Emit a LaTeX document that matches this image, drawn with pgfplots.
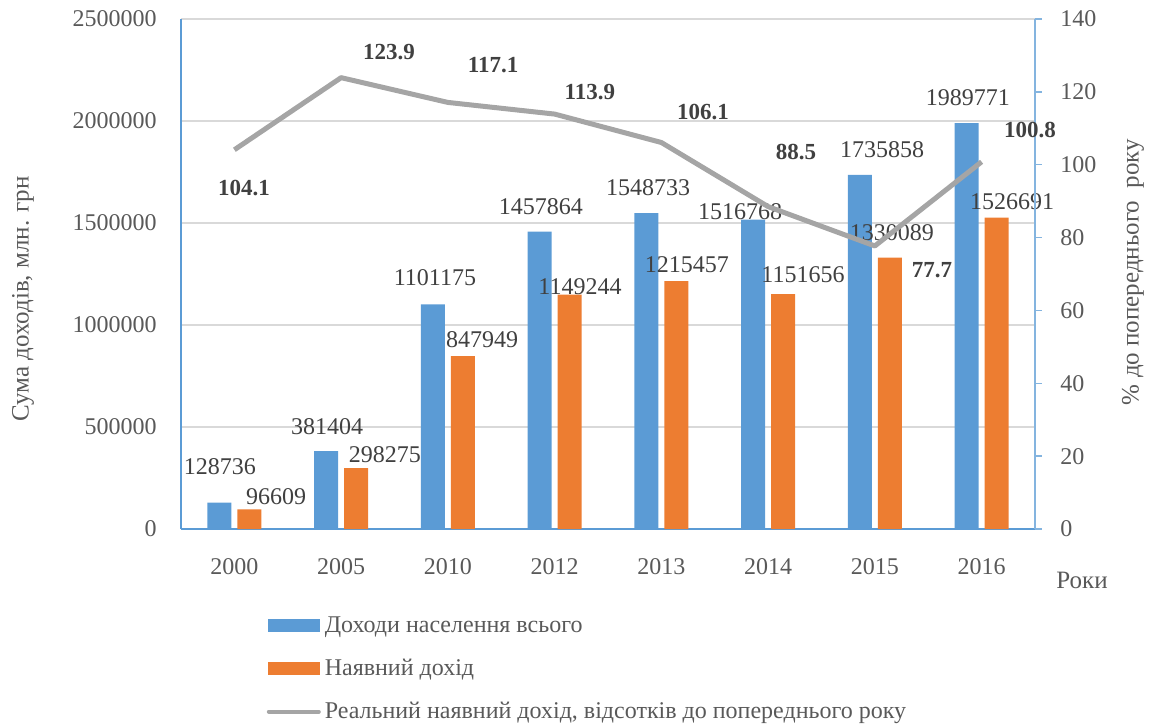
\documentclass[border=0pt]{standalone}
\usepackage{fontspec}
\setmainfont{Liberation Serif}
\usepackage{pgfplots}
\pgfplotsset{compat=1.18}
\definecolor{cblue}{HTML}{5B9BD5}
\definecolor{corange}{HTML}{ED7D31}
\definecolor{lgray}{HTML}{A5A5A5}
\definecolor{gridgray}{HTML}{D9D9D9}
\definecolor{labgray}{HTML}{595959}
\definecolor{datgray}{HTML}{404040}
\begin{document}
\begin{tikzpicture}[font=\fontsize{12}{14}\selectfont]
\useasboundingbox (0,0) rectangle (575pt,362.5pt);
\begin{axis}[
  at={(90.5pt,98pt)}, anchor=south west,
  width=427pt, height=255pt, scale only axis,
  xmin=-0.5, xmax=7.5, ymin=0, ymax=2500000,
  xtick={0,...,7},
  xticklabels={2000,2005,2010,2012,2013,2014,2015,2016},
  ytick={0,500000,1000000,1500000,2000000,2500000},
  scaled y ticks=false,
  /pgf/number format/.cd, fixed, 1000 sep={}, assume math mode=true,
  /pgfplots/.cd,
  axis x line*=bottom, axis y line*=left,
  axis line style={cblue, line width=0.75pt},
  ymajorgrids, grid style={gridgray, line width=1pt},
  major tick length=0pt,
  tick label style={text=labgray, font=\fontsize{12}{14}\selectfont},
  xticklabel style={anchor=center, yshift=-19pt},
  yticklabel style={anchor=east, inner sep=0pt, xshift=-12pt},
  ylabel={Сума доходів, млн. грн},
  ylabel style={at={(axis description cs:-0.185,0.451)}, anchor=center, text=labgray, font=\fontsize{12.5}{14}\selectfont},
  legend style={at={(axis description cs:0.1,-0.163)}, anchor=north west, draw=none, fill=none,
    font=\fontsize{12}{14}\selectfont, text=labgray, row sep=7.8pt, inner sep=0pt,
    /tikz/every even column/.append style={column sep=0pt}},
  legend cell align=left,
  clip=false,
]
\addplot[ybar, bar width=0.2248, bar shift=-0.1405, fill=cblue, draw=none,
  legend image code/.code={\fill[cblue] (0pt,-3.25pt) rectangle (26pt,3.25pt);}]
  coordinates {(0,128736) (1,381404) (2,1101175) (3,1457864) (4,1548733) (5,1516768) (6,1735858) (7,1989771)};
\addlegendentry{Доходи населення всього}
\addplot[ybar, bar width=0.2248, bar shift=0.1405, fill=corange, draw=none,
  legend image code/.code={\fill[corange] (0pt,-3.25pt) rectangle (26pt,3.25pt);}]
  coordinates {(0,96609) (1,298275) (2,847949) (3,1149244) (4,1215457) (5,1151656) (6,1330089) (7,1526691)};
\addlegendentry{Наявний дохід}
\addlegendimage{legend image code/.code={\draw[lgray, line width=2pt, line cap=round] (0.5pt,0pt) -- (25.5pt,0pt);}}
\addlegendentry{Реальний наявний дохід, відсотків до попереднього року}
% data labels, blue series
\addplot[draw=none, mark=none, forget plot, nodes near coords, point meta=explicit symbolic,
  nodes near coords style={anchor=center, text=datgray, font=\fontsize{12}{14}\selectfont, inner sep=0pt}]
  coordinates {(-0.135,303922)[128736] (0.868,500000)[381404] (1.879,1230392)[1101175]
   (2.872,1578431)[1457864] (3.875,1671569)[1548733] (4.737,1553922)[1516768]
   (6.067,1857843)[1735858] (6.872,2112745)[1989771]};
% data labels, orange series
\addplot[draw=none, mark=none, forget plot, nodes near coords, point meta=explicit symbolic,
  nodes near coords style={anchor=center, text=datgray, font=\fontsize{12}{14}\selectfont, inner sep=0pt}]
  coordinates {(0.390,156863)[96609] (1.411,362745)[298275] (2.320,926471)[847949]
   (3.238,1186275)[1149244] (4.240,1294118)[1215457] (5.327,1245098)[1151656]
   (6.160,1450980)[1330089] (7.285,1602941)[1526691]};
\node[anchor=center, text=labgray, font=\fontsize{12.5}{14}\selectfont] at (axis description cs:1.055,-0.1) {Роки};
\end{axis}
\begin{axis}[
  at={(90.5pt,98pt)}, anchor=south west,
  width=427pt, height=255pt, scale only axis,
  xmin=-0.5, xmax=7.5, ymin=0, ymax=140,
  axis x line=none, axis y line*=right,
  ytick={0,20,...,140},
  /pgf/number format/.cd, assume math mode=true,
  /pgfplots/.cd,
  axis line style={cblue!75, line width=0.75pt},
  tick align=outside, major tick length=3.5pt,
  ytick style={cblue!75, line width=0.75pt},
  tick label style={text=labgray, font=\fontsize{12}{14}\selectfont},
  yticklabel style={anchor=west, inner sep=0pt, xshift=9pt},
  ylabel={\%~до попереднього~~року},
  ylabel style={at={(axis description cs:1.1148,0.504)}, anchor=center, rotate=0, text=labgray, font=\fontsize{12.5}{14}\selectfont},
  clip=false,
]
\addplot[lgray, line width=2.5pt, line join=round, mark=none]
  coordinates {(0,104.1) (1,123.9) (2,117.1) (3,113.9) (4,106.1) (5,88.5) (6,77.7) (7,100.8)};
\addplot[draw=none, mark=none, nodes near coords, point meta=explicit symbolic,
  nodes near coords style={anchor=center, text=datgray, font=\bfseries\fontsize{11.5}{14}\selectfont, inner sep=0pt}]
  coordinates {(0.090,93.6)[104.1] (1.449,130.9)[123.9] (2.423,127.4)[117.1] (3.331,120.0)[113.9]
   (4.390,114.5)[106.1] (5.261,103.5)[88.5] (6.535,71.1)[77.7] (7.453,109.5)[100.8]};
\end{axis}
\end{tikzpicture}
\end{document}
